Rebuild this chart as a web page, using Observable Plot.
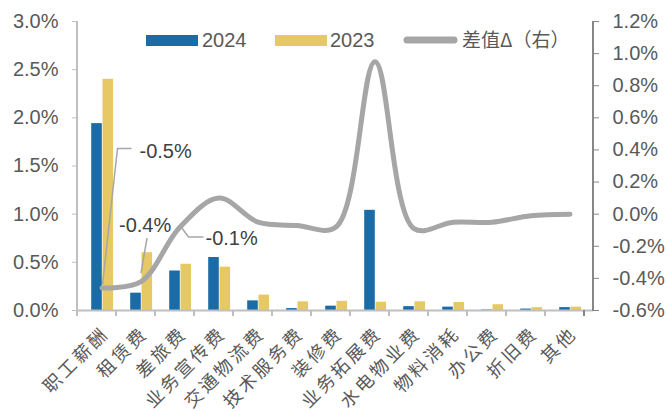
<!DOCTYPE html>
<html><head><meta charset="utf-8">
<script src="https://cdn.jsdelivr.net/npm/d3@7"></script>
<script src="https://cdn.jsdelivr.net/npm/@observablehq/plot@0.6"></script>
<style>html,body{margin:0;padding:0;background:#fff;} svg{display:block}</style>
</head><body><div id="chart"></div>
<script>
const categories = ["职工薪酬","租赁费","差旅费","业务宣传费","交通物流费","技术服务费","装修费","业务拓展费","水电物业费","物料消耗","办公费","折旧费","其他"];
const values2024 = [1.94,0.18,0.41,0.55,0.10,0.02,0.045,1.04,0.04,0.035,0.005,0.015,0.03];
const values2023 = [2.40,0.60,0.48,0.45,0.16,0.09,0.095,0.086,0.09,0.083,0.06,0.03,0.035];
const deltaValues = [-0.46,-0.42,-0.08,0.10,-0.05,-0.07,-0.08,0.95,-0.09,-0.05,-0.05,-0.01,0.00];
const leftTicks = [0,0.5,1,1.5,2,2.5,3];
const rightTicks = [-0.6,-0.4,-0.2,0,0.2,0.4,0.6,0.8,1.0,1.2];
const seriesNames = ["2024","2023","差值Δ（右）"];
const annoLabels = ["-0.5%","-0.4%","-0.1%"];
const annoIndex = [0,1,2];

const BLUE="#1B6BA6", GOLD="#E6C965", GREY="#A6A6A6";
const toLeft = v => (v + 0.6) * 5 / 3;
const fromLeft = y => Math.round((y*0.6 - 0.6)*10)/10;
const rows = categories.map((c,i)=>({cat:c, a:values2024[i], b:values2023[i], d:deltaValues[i]}));
const NUM = "'Liberation Sans', Arial, sans-serif";
const CJK = "'Noto Sans CJK SC', sans-serif";

const plot = Plot.plot({
  width:667, height:411, marginLeft:77, marginRight:74, marginTop:21, marginBottom:101,
  style:{background:"#fff", fontFamily:NUM, overflow:"visible"},
  x:{type:"band", domain:categories, padding:0, axis:null},
  y:{domain:[0,3], axis:null},
  marks:[
    Plot.barY(rows,{x:"cat", y:"a", fill:BLUE, insetLeft:9.2, insetRight:19.2}),
    Plot.barY(rows,{x:"cat", y:"b", fill:GOLD, insetLeft:20.5, insetRight:7.9}),
    Plot.ruleY([0],{stroke:"#BFBFBF", strokeWidth:2}),
    Plot.axisY(leftTicks,{anchor:"left", tickSize:5, tickPadding:14, stroke:"#BFBFBF", fill:"#595959", fontSize:20, tickFormat:d=>d.toFixed(1)+"%"}),
    Plot.axisY(rightTicks.map(toLeft),{anchor:"right", tickSize:5, tickPadding:14, stroke:"#868686", fill:"#595959", fontSize:20, tickFormat:d=>fromLeft(d).toFixed(1)+"%"}),
    Plot.line(rows,{x:"cat", y:d=>toLeft(d.d), stroke:GREY, strokeWidth:5, curve:"catmull-rom", strokeLinecap:"round", strokeLinejoin:"round"})
  ]
});
document.getElementById("chart").appendChild(plot);

const svg = d3.select(plot);
const xs = plot.scale("x"), ys = plot.scale("y");
const bw = xs.bandwidth;
const [xa, xb] = xs.range;
const yTop = ys.apply(3), yBot = ys.apply(0);

// axis lines
svg.append("line").attr("x1",xa).attr("x2",xa).attr("y1",yTop).attr("y2",yBot+1)
  .attr("stroke","#BFBFBF").attr("stroke-width",2);
svg.append("line").attr("x1",xb).attr("x2",xb).attr("y1",yTop).attr("y2",yBot+1)
  .attr("stroke","#868686").attr("stroke-width",2);
// x ticks at band edges
for (let i = 0; i <= categories.length; i++) {
  const x = xa + i*bw;
  svg.append("line").attr("x1",x).attr("x2",x).attr("y1",yBot).attr("y2",yBot+6)
    .attr("stroke", i === categories.length ? "#868686" : "#BFBFBF").attr("stroke-width",2);
}
// category labels, rotated
const xl = svg.append("g").attr("font-family",CJK).attr("font-size",18).attr("fill","#595959")
  .attr("text-anchor","end").style("letter-spacing","3px");
categories.forEach(c => {
  const cx = xs.apply(c) + bw/2;
  xl.append("text").attr("transform",`translate(${cx+3},${yBot+19}) rotate(-45)`)
    .attr("dominant-baseline","central").text(c);
});

// legend
const lg = svg.append("g").attr("font-family",NUM).attr("font-size",20).attr("fill","#595959").attr("text-anchor","start");
lg.append("rect").attr("x",146).attr("y",35).attr("width",52).attr("height",11).attr("fill",BLUE);
lg.append("text").attr("x",202).attr("y",47).text(seriesNames[0]);
lg.append("rect").attr("x",275).attr("y",35).attr("width",52).attr("height",11).attr("fill",GOLD);
lg.append("text").attr("x",330).attr("y",47).text(seriesNames[1]);
lg.append("line").attr("x1",407).attr("x2",454).attr("y1",40).attr("y2",40)
  .attr("stroke",GREY).attr("stroke-width",7).attr("stroke-linecap","round");
lg.append("text").attr("x",462).attr("y",47).attr("font-family",CJK).attr("font-size",19).text(seriesNames[2]);

// annotations
const pt = i => [xs.apply(categories[i]) + bw/2, ys.apply(toLeft(deltaValues[i]))];
const ag = svg.append("g").attr("font-family",NUM).attr("font-size",20).attr("fill","#404040").attr("text-anchor","start");
const leader = (pts) => ag.append("polyline").attr("points", pts.map(p=>p.join(",")).join(" "))
  .attr("fill","none").attr("stroke",GREY).attr("stroke-width",1.5);
{
  const [x,y] = pt(annoIndex[0]);
  leader([[x+1,y-3],[x+16,y-139],[x+30,y-139]]);
  ag.append("text").attr("x",x+38).attr("y",y-130).text(annoLabels[0]);
}
{
  const [x,y] = pt(annoIndex[1]);
  leader([[x+0.5,y-8],[x+6.5,y-43]]);
  ag.append("text").attr("x",x-21.5).attr("y",y-49).text(annoLabels[1]);
}
{
  const [x,y] = pt(annoIndex[2]);
  leader([[x+2,y+1],[x+9,y+10.5],[x+24,y+10.5]]);
  ag.append("text").attr("x",x+26).attr("y",y+18.5).text(annoLabels[2]);
}
</script>
</body></html>
